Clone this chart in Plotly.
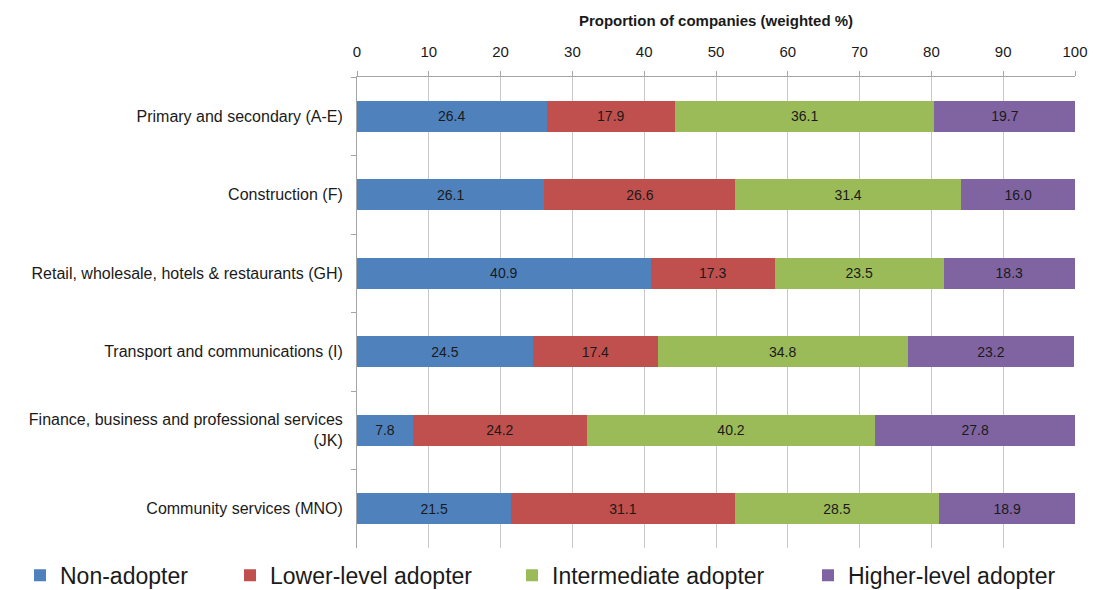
import plotly.graph_objects as go

categories = [
    "Primary and secondary (A-E)",
    "Construction (F)",
    "Retail, wholesale, hotels & restaurants (GH)",
    "Transport and communications (I)",
    "Finance, business and professional services<br>(JK)",
    "Community services (MNO)",
]
series_names = ["Non-adopter", "Lower-level adopter", "Intermediate adopter", "Higher-level adopter"]
non_adopter = [26.4, 26.1, 40.9, 24.5, 7.8, 21.5]
lower_level = [17.9, 26.6, 17.3, 17.4, 24.2, 31.1]
intermediate = [36.1, 31.4, 23.5, 34.8, 40.2, 28.5]
higher_level = [19.7, 16.0, 18.3, 23.2, 27.8, 18.9]
x_ticks = list(range(0, 101, 10))

colors = ["#4F81BD", "#C0504D", "#9BBB59", "#8064A2"]
values = [non_adopter, lower_level, intermediate, higher_level]
legend_ids = ["legend", "legend2", "legend3", "legend4"]

FONT = "Liberation Sans, Arial, sans-serif"
TXT = "#1a1a1a"

fig = go.Figure()
for name, vals, col, lid in zip(series_names, values, colors, legend_ids):
    fig.add_trace(go.Bar(
        y=categories, x=vals, name=name, orientation="h",
        marker=dict(color=col, line=dict(width=0)),
        width=0.39,
        text=[f"{v:.1f}" for v in vals], textposition="inside",
        insidetextanchor="middle",
        textfont=dict(family=FONT, size=14, color=TXT),
        legend=lid,
        hoverinfo="skip",
    ))

# one legend box per series so each entry sits at its own spot along the bottom
layout_legends = {}
legend_px = [20, 230, 512, 808]
plot_l, plot_w = 357, 718
for lid, px in zip(legend_ids, legend_px):
    layout_legends[lid] = dict(
        x=(px - plot_l) / plot_w, xref="paper", xanchor="left",
        y=-0.058, yanchor="middle", orientation="h",
        font=dict(family=FONT, size=23, color=TXT),
        bgcolor="rgba(0,0,0,0)", itemwidth=30, itemsizing="constant",
        tracegroupgap=0,
    )

fig.update_layout(
    width=1095, height=590,
    margin=dict(l=357, r=20, t=77, b=42, autoexpand=False),
    barmode="stack",
    plot_bgcolor="white", paper_bgcolor="white",
    font=dict(family=FONT, size=15, color=TXT),
    showlegend=True,
    **layout_legends,
    xaxis=dict(
        side="top", range=[0, 100], tickvals=x_ticks,
        showgrid=True, gridcolor="#c8c8c8", gridwidth=1,
        showline=True, linecolor="#a6a6a6", linewidth=1,
        ticks="outside", ticklen=5, tickcolor="#a6a6a6",
        tickfont=dict(family=FONT, size=15, color=TXT),
        ticklabelstandoff=8,
        title=dict(text="<b>Proportion of companies (weighted %)</b>",
                   font=dict(family=FONT, size=15, color=TXT), standoff=12),
        zeroline=False,
    ),
    yaxis=dict(
        autorange="reversed", type="category",
        showline=True, linecolor="#a6a6a6", linewidth=1,
        ticks="outside", ticklen=5, tickcolor="#a6a6a6", tickson="boundaries",
        tickfont=dict(family=FONT, size=16, color=TXT),
        showgrid=False, ticklabelstandoff=10,
    ),
)

fig.write_html("out.html")
